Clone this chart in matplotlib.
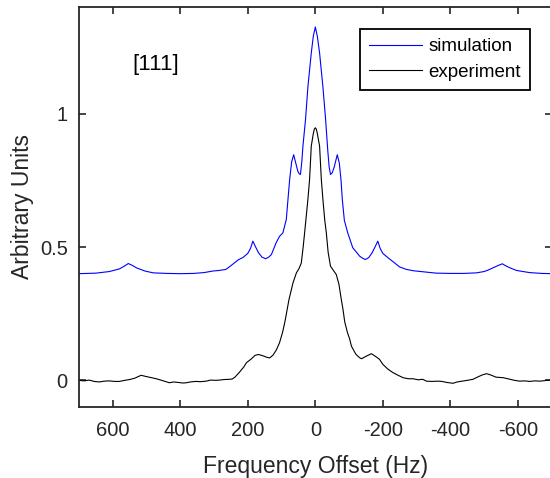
import matplotlib
matplotlib.use("Agg")
import matplotlib.pyplot as plt

plt.rcParams['font.family'] = ['Liberation Sans', 'DejaVu Sans']

# simulation (offset by 0.4 in the original figure)
sim_freq = [700, 650, 610, 580, 566, 554, 542, 530, 505, 480, 440, 400, 360, 330, 303,
            285, 265, 254, 240, 228, 214, 200, 192, 185, 178, 168, 158, 147, 138,
            130, 116, 106, 96, 86, 81, 76, 70, 64, 58, 52, 48, 44, 40, 36.7, 29, 22,
            12, 6, 0, -6, -12.7, -22.5, -30.5, -37, -41, -45, -50, -56, -65, -71,
            -76, -80, -86, -96, -111, -121, -131, -140, -148, -158, -168, -178, -185,
            -192, -200, -215, -230, -250, -270, -290, -320, -358, -400, -440,
            -477, -500, -511, -530, -542, -554, -566, -580, -596, -635, -670, -700]
sim_val = [0.400, 0.402, 0.408, 0.418, 0.428, 0.438, 0.431, 0.422, 0.410, 0.403, 0.401,
           0.400, 0.401, 0.404, 0.410, 0.412, 0.416, 0.426, 0.440, 0.452, 0.461, 0.476,
           0.495, 0.522, 0.503, 0.478, 0.462, 0.456, 0.462, 0.472, 0.516, 0.540, 0.553,
           0.603, 0.678, 0.753, 0.820, 0.846, 0.815, 0.785, 0.775, 0.772, 0.820, 0.878,
           0.978, 1.100, 1.227, 1.290, 1.325, 1.290, 1.227, 1.100, 0.978, 0.860, 0.800,
           0.772, 0.778, 0.800, 0.846, 0.815, 0.753, 0.678, 0.600, 0.553, 0.497, 0.482,
           0.466, 0.458, 0.453, 0.460, 0.478, 0.503, 0.522, 0.495, 0.476, 0.460, 0.445,
           0.425, 0.416, 0.411, 0.407, 0.402, 0.401, 0.401, 0.403, 0.408, 0.413, 0.424,
           0.431, 0.437, 0.428, 0.420, 0.412, 0.404, 0.401, 0.400]

# experiment
exp_freq = [700, 685, 670, 655, 640, 625, 610, 595, 580, 565, 550, 535, 516, 500, 485,
            471, 455, 440, 432, 420, 405, 392, 382, 370, 355, 340, 323, 310, 295, 284,
            270, 254, 246, 238, 225, 212, 204, 190, 178, 168, 155, 145, 135, 125, 115,
            106, 97, 90, 78, 66, 56, 48, 41.5, 36, 31.7, 22, 17, 12, 6, 3, 0, -3, -6,
            -12.7, -17.8, -22.5, -28, -32.6, -38, -45, -52, -62, -70, -77, -82, -87,
            -95, -102, -107, -120, -131, -137, -150, -166, -178, -190, -200, -215,
            -230, -245, -260, -275, -289, -305, -318, -329, -345, -363, -375, -390,
            -408, -420, -435, -450, -467, -480, -494, -507, -520, -535, -556, -570,
            -590, -605, -620, -635, -650, -665, -680, -694, -700]
exp_val = [0.000, -0.002, 0.001, -0.004, -0.006, -0.003, -0.002, -0.004, -0.004, 0.000,
           0.003, 0.008, 0.019, 0.014, 0.010, 0.006, 0.000, -0.006, -0.009, -0.006,
           -0.008, -0.010, -0.009, -0.006, -0.004, -0.005, -0.003, 0.001, 0.000, 0.001,
           0.003, 0.004, 0.005, 0.012, 0.030, 0.050, 0.066, 0.080, 0.094, 0.097, 0.092,
           0.087, 0.084, 0.095, 0.115, 0.141, 0.180, 0.220, 0.303, 0.366, 0.403, 0.420,
           0.440, 0.500, 0.553, 0.678, 0.753, 0.878, 0.925, 0.942, 0.947, 0.942, 0.925,
           0.878, 0.753, 0.678, 0.600, 0.553, 0.480, 0.428, 0.415, 0.397, 0.360, 0.303,
           0.266, 0.220, 0.180, 0.154, 0.128, 0.098, 0.085, 0.081, 0.090, 0.100, 0.090,
           0.079, 0.060, 0.042, 0.029, 0.019, 0.010, 0.006, 0.006, 0.002, 0.004, -0.003,
           -0.004, -0.003, -0.004, -0.008, -0.011, -0.006, -0.003, 0.000, 0.004, 0.012,
           0.020, 0.025, 0.020, 0.012, 0.010, 0.006, 0.000, -0.003, -0.002, -0.004,
           -0.002, -0.003, -0.001, 0.001, 0.000]

xticks = [600, 400, 200, 0, -200, -400, -600]
xticklabels = ['600', '400', '200', '0', '-200', '-400', '-600']
yticks = [0, 0.5, 1]
yticklabels = ['0', '0.5', '1']

fig = plt.figure(figsize=(5.5, 4.78), dpi=100)
ax = fig.add_axes([0.1436, 0.1485, 0.8594, 0.8369])

ax.plot(sim_freq, sim_val, color='#0000ff', lw=0.8, label='simulation')
ax.plot(exp_freq, exp_val, color='black', lw=0.8, label='experiment')

ax.set_xlim(700, -700)
ax.set_ylim(-0.1, 1.4)
ax.set_xticks(xticks)
ax.set_xticklabels(xticklabels)
ax.set_yticks(yticks)
ax.set_yticklabels(yticklabels)

dark = '#262626'
for s in ax.spines.values():
    s.set_linewidth(1.3)
    s.set_color(dark)
ax.tick_params(direction='in', top=True, right=True, length=5, width=1.2,
               colors=dark, labelsize=14.5)
ax.tick_params(axis='x', pad=10)
ax.tick_params(axis='y', pad=8)

ax.set_xlabel('Frequency Offset (Hz)', fontsize=16.5, color=dark, labelpad=11)
ax.set_ylabel('Arbitrary Units', fontsize=16.5, color=dark, labelpad=4)

ax.text(473, 1.183, '[111]', fontsize=16, color='black', ha='center', va='center')

leg = ax.legend(loc='upper right', bbox_to_anchor=(0.954, 0.945), fontsize=13.5,
                fancybox=False, framealpha=1, edgecolor='black', handlelength=2.85,
                handletextpad=0.3, borderpad=0.5, labelspacing=0.45, borderaxespad=0)
leg.get_frame().set_linewidth(1.3)

fig.savefig('out.png', dpi=100)
